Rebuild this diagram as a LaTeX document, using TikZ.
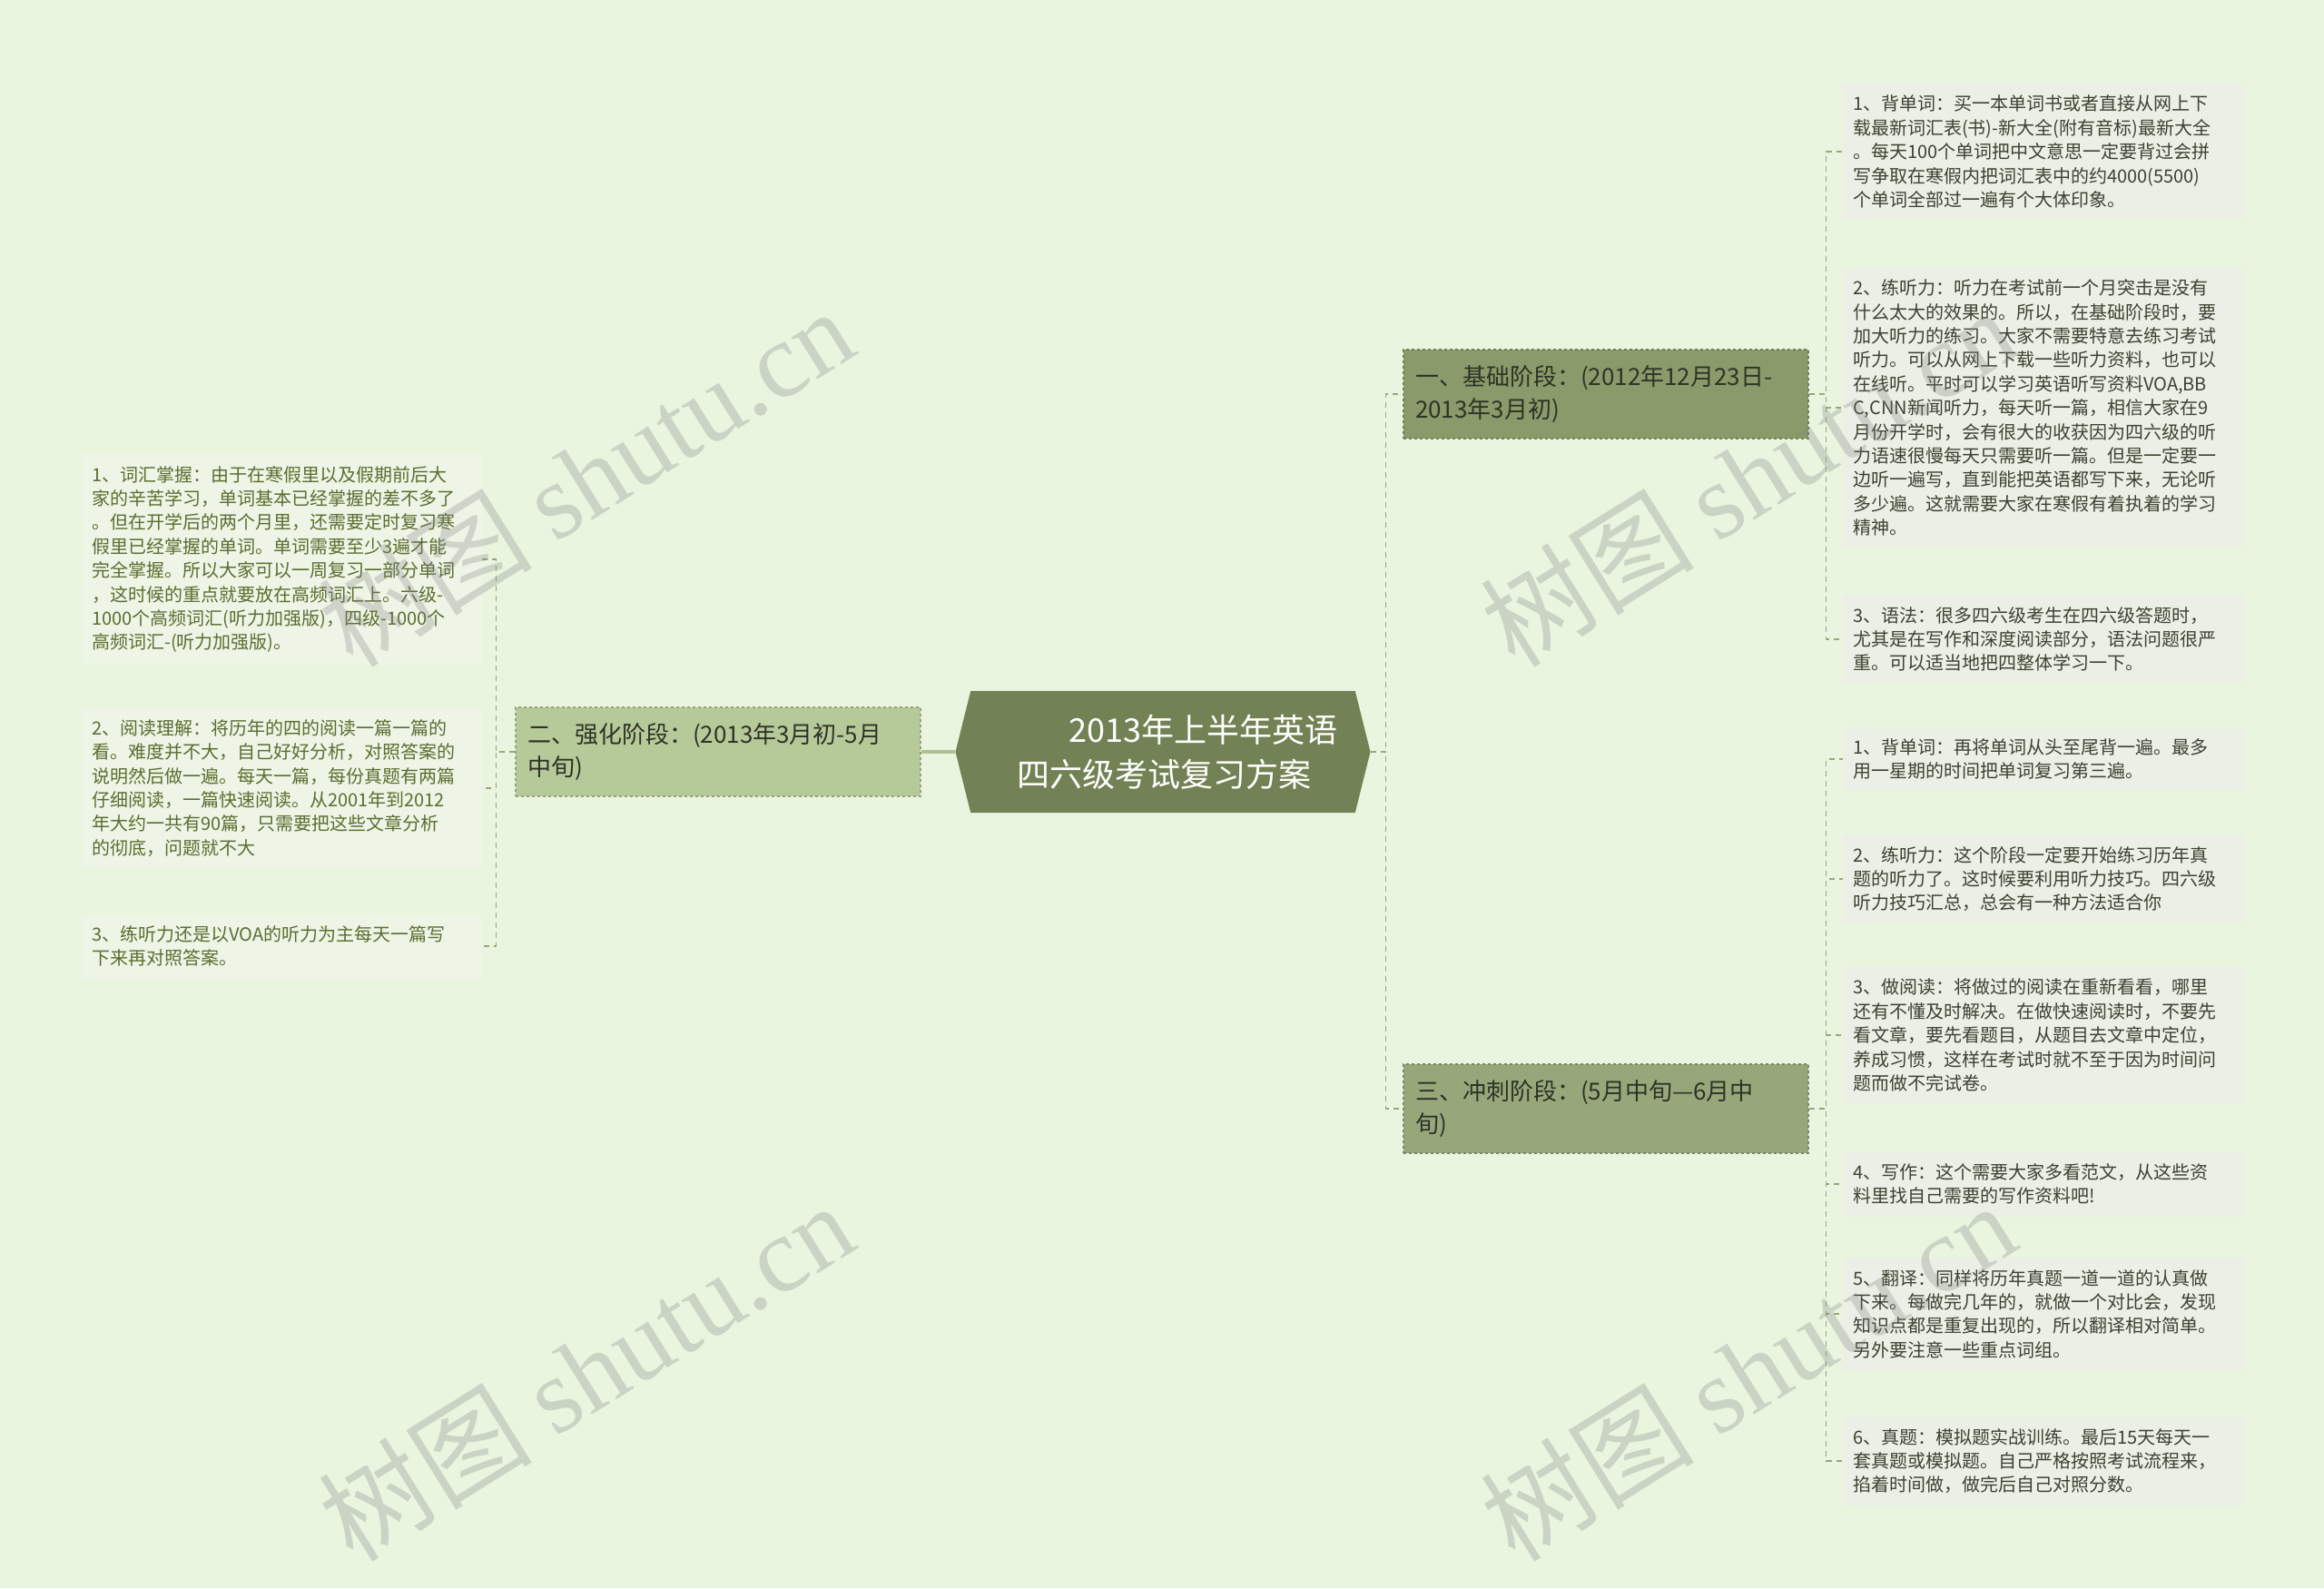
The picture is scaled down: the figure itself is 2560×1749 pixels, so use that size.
\documentclass[tikz,border=0pt]{standalone}
\usepackage{fontspec}
\setmainfont{Noto Sans CJK SC}
\newfontfamily\wmfont{Liberation Serif}
\usetikzlibrary{shapes.symbols}

\definecolor{bgcol}{HTML}{E9F5DF}
\definecolor{hubcol}{HTML}{738255}
\definecolor{stageone}{HTML}{8A9A6A}
\definecolor{stagetwo}{HTML}{B5C999}
\definecolor{stagethree}{HTML}{97A77A}
\definecolor{leafleft}{HTML}{EEF4E6}
\definecolor{leafright}{HTML}{EBEFE5}
\definecolor{textleft}{HTML}{5A6E30}
\definecolor{textright}{HTML}{3E4232}
\definecolor{stagetext}{HTML}{2E3326}
\definecolor{linkcol}{HTML}{9AA67E}
\definecolor{trunkcol}{HTML}{AFBF94}

\begin{document}
\begin{tikzpicture}[
        x=1pt, y=-1pt,
        hub/.style={signal, signal to=west and east, signal pointer angle=152,
            fill=hubcol, text=white, minimum width=457pt, minimum height=134pt,
            inner xsep=6pt, text width=322pt, align=left,
            font=\fontsize{36}{49}\selectfont},
        stage/.style={fill=#1, draw=#1!82!black, dashed, line width=1.2pt,
            text=stagetext, text width=420pt, inner xsep=13pt, inner ysep=15pt,
            minimum height=98pt, align=left, font=\fontsize{26}{36}\selectfont},
        lleaf/.style={fill=leafleft, text=textleft, anchor=west,
            text width=419pt, inner xsep=11pt, inner ysep=13pt, align=left,
            font=\fontsize{20}{26.4}\selectfont},
        rleaf/.style={lleaf, fill=leafright, text=textright},
        link/.style={draw=linkcol, line width=1.5pt, dash pattern=on 6pt off 5pt},
        trunk/.style={draw=trunkcol, line width=4pt},
        watermark/.style={text=gray, opacity=0.28, rotate=32,
            font=\fontsize{118}{118}\selectfont}
    ]
        \fill[bgcol] (0,0) rectangle (2560,1749);
        \useasboundingbox (0,0) rectangle (2560,1749);

        % centre
        \node[hub] (hub) at (1281,828)
            {\hspace*{1.6em}2013年上半年英语\\四六级考试复习方案};

        % stages
        \node[stage=stageone] (s1) at (1769,434)
            {一、基础阶段：(2012年12月23日-\\2013年3月初)};
        \node[stage=stagetwo] (s2) at (791,828)
            {二、强化阶段：(2013年3月初-5月\\中旬)};
        \node[stage=stagethree] (s3) at (1769,1221)
            {三、冲刺阶段：(5月中旬—6月中\\旬)};

        % left leaves
        \node[lleaf] (l1) at (90,616) {1、词汇掌握：由于在寒假里以及假期前后大\\家的辛苦学习，单词基本已经掌握的差不多了\\。但在开学后的两个月里，还需要定时复习寒\\假里已经掌握的单词。单词需要至少3遍才能\\完全掌握。所以大家可以一周复习一部分单词\\，这时候的重点就要放在高频词汇上。六级-\\1000个高频词汇(听力加强版)，四级-1000个\\高频词汇-(听力加强版)。};
        \node[lleaf] (l2) at (90,868) {2、阅读理解：将历年的四的阅读一篇一篇的\\看。难度并不大，自己好好分析，对照答案的\\说明然后做一遍。每天一篇，每份真题有两篇\\仔细阅读，一篇快速阅读。从2001年到2012\\年大约一共有90篇，只需要把这些文章分析\\的彻底，问题就不大};
        \node[lleaf] (l3) at (90,1042) {3、练听力还是以VOA的听力为主每天一篇写\\下来再对照答案。};

        % right leaves, stage one
        \node[rleaf] (r1) at (2030,167) {1、背单词：买一本单词书或者直接从网上下\\载最新词汇表(书)-新大全(附有音标)最新大全\\。每天100个单词把中文意思一定要背过会拼\\写争取在寒假内把词汇表中的约4000(5500)\\个单词全部过一遍有个大体印象。};
        \node[rleaf] (r2) at (2030,449) {2、练听力：听力在考试前一个月突击是没有\\什么太大的效果的。所以，在基础阶段时，要\\加大听力的练习。大家不需要特意去练习考试\\听力。可以从网上下载一些听力资料，也可以\\在线听。平时可以学习英语听写资料VOA,BB\\C,CNN新闻听力，每天听一篇，相信大家在9\\月份开学时，会有很大的收获因为四六级的听\\力语速很慢每天只需要听一篇。但是一定要一\\边听一遍写，直到能把英语都写下来，无论听\\多少遍。这就需要大家在寒假有着执着的学习\\精神。};
        \node[rleaf] (r3) at (2030,704) {3、语法：很多四六级考生在四六级答题时，\\尤其是在写作和深度阅读部分，语法问题很严\\重。可以适当地把四整体学习一下。};

        % right leaves, stage three
        \node[rleaf] (r4) at (2030,836) {1、背单词：再将单词从头至尾背一遍。最多\\用一星期的时间把单词复习第三遍。};
        \node[rleaf] (r5) at (2030,968) {2、练听力：这个阶段一定要开始练习历年真\\题的听力了。这时候要利用听力技巧。四六级\\听力技巧汇总，总会有一种方法适合你};
        \node[rleaf] (r6) at (2030,1140) {3、做阅读：将做过的阅读在重新看看，哪里\\还有不懂及时解决。在做快速阅读时，不要先\\看文章，要先看题目，从题目去文章中定位，\\养成习惯，这样在考试时就不至于因为时间问\\题而做不完试卷。};
        \node[rleaf] (r7) at (2030,1304) {4、写作：这个需要大家多看范文，从这些资\\料里找自己需要的写作资料吧!};
        \node[rleaf] (r8) at (2030,1447) {5、翻译：同样将历年真题一道一道的认真做\\下来。每做完几年的，就做一个对比会，发现\\知识点都是重复出现的，所以翻译相对简单。\\另外要注意一些重点词组。};
        \node[rleaf] (r9) at (2030,1609) {6、真题：模拟题实战训练。最后15天每天一\\套真题或模拟题。自己严格按照考试流程来，\\掐着时间做，做完后自己对照分数。};

        % connectors
        \draw[trunk] (hub.west) -- (s2.east);
        \draw[link] (hub.east) -- ++(17,0) |- (s1.west);
        \draw[link] (hub.east) -- ++(17,0) |- (s3.west);
        \draw[link] (s2.west) -- ++(-21,0) |- (l1.east);
        \draw[link] (s2.west) -- ++(-21,0) |- (l2.east);
        \draw[link] (s2.west) -- ++(-21,0) |- (l3.east);
        \draw[link] (s1.east) -- ++(19,0) |- (r1.west);
        \draw[link] (s1.east) -- ++(19,0) |- (r2.west);
        \draw[link] (s1.east) -- ++(19,0) |- (r3.west);
        \draw[link] (s3.east) -- ++(19,0) |- (r4.west);
        \draw[link] (s3.east) -- ++(19,0) |- (r5.west);
        \draw[link] (s3.east) -- ++(19,0) |- (r6.west);
        \draw[link] (s3.east) -- ++(19,0) |- (r7.west);
        \draw[link] (s3.east) -- ++(19,0) |- (r8.west);
        \draw[link] (s3.east) -- ++(19,0) |- (r9.west);

        % watermarks
        \node[watermark] (w1) at (645,525) {树图 {\wmfont shutu.cn}};
        \node[watermark] (w2) at (1925,525) {树图 {\wmfont shutu.cn}};
        \node[watermark] (w3) at (645,1510) {树图 {\wmfont shutu.cn}};
        \node[watermark] (w4) at (1925,1510) {树图 {\wmfont shutu.cn}};
    \end{tikzpicture}
\end{document}
